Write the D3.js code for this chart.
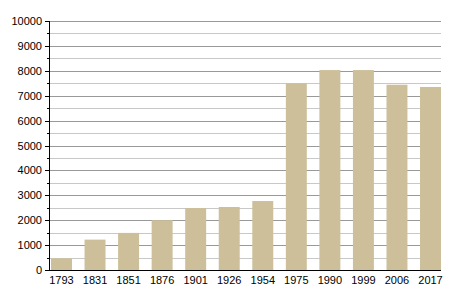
<!DOCTYPE html>
<html>
<head>
<meta charset="utf-8">
<script src="https://cdn.jsdelivr.net/npm/d3@7"></script>
<style>
  body { margin: 0; background: #fff; }
  text { font-family: "Liberation Sans", Arial, sans-serif; font-size: 11px; fill: #000; }
</style>
</head>
<body>
<div id="vis"></div>
<script>
// years and population
const years = ["1793", "1831", "1851", "1876", "1901", "1926", "1954", "1975", "1990", "1999", "2006", "2017"]
const population = [470, 1220, 1490, 2000, 2490, 2530, 2770, 7500, 8030, 8030, 7440, 7350]
const yTicks = [0, 1000, 2000, 3000, 4000, 5000, 6000, 7000, 8000, 9000, 10000]
const minorTicks = [500, 1500, 2500, 3500, 4500, 5500, 6500, 7500, 8500, 9500]

const width = 450, height = 300
const margin = { left: 49, right: 9, top: 21, bottom: 30 }

const svg = d3.select('#vis').append('svg')
  .attr('width', width)
  .attr('height', height)

const yScale = d3.scaleLinear()
  .domain([0, 10000])
  .range([height - margin.bottom, margin.top])

const xScale = d3.scaleBand()
  .domain(years)
  .range([margin.left + 2, width - margin.right])
  .paddingInner(0.375)
  .paddingOuter(0)

// minor grid
svg.append('g').selectAll('line')
  .data(minorTicks)
  .enter().append('line')
  .attr('x1', margin.left).attr('x2', width - margin.right)
  .attr('y1', d => Math.round(yScale(d)) + 0.5)
  .attr('y2', d => Math.round(yScale(d)) + 0.5)
  .attr('stroke', '#c8c8c8')

// major grid
svg.append('g').selectAll('line')
  .data(yTicks.slice(1))
  .enter().append('line')
  .attr('x1', margin.left).attr('x2', width - margin.right)
  .attr('y1', d => Math.round(yScale(d)) + 0.5)
  .attr('y2', d => Math.round(yScale(d)) + 0.5)
  .attr('stroke', '#999')

// bars
svg.append('g').selectAll('rect')
  .data(years)
  .enter().append('rect')
  .attr('x', (d, i) => xScale(d))
  .attr('width', xScale.bandwidth())
  .attr('y', (d, i) => yScale(population[i]))
  .attr('height', (d, i) => yScale(0) - yScale(population[i]))
  .attr('fill', '#cdbf99')

// y axis line and ticks
const yAxis = svg.append('g')
yAxis.append('line')
  .attr('x1', margin.left + 0.5).attr('x2', margin.left + 0.5)
  .attr('y1', margin.top).attr('y2', yScale(0))
  .attr('stroke', '#000')
yAxis.selectAll('.major')
  .data(yTicks)
  .enter().append('line')
  .attr('class', 'major')
  .attr('x1', margin.left - 4).attr('x2', margin.left)
  .attr('y1', d => Math.round(yScale(d)) + 0.5)
  .attr('y2', d => Math.round(yScale(d)) + 0.5)
  .attr('stroke', '#000')
yAxis.selectAll('.minor')
  .data(minorTicks)
  .enter().append('line')
  .attr('class', 'minor')
  .attr('x1', margin.left - 2).attr('x2', margin.left)
  .attr('y1', d => Math.round(yScale(d)) + 0.5)
  .attr('y2', d => Math.round(yScale(d)) + 0.5)
  .attr('stroke', '#000')
yAxis.selectAll('text')
  .data(yTicks)
  .enter().append('text')
  .attr('x', margin.left - 7)
  .attr('y', d => yScale(d) + 4)
  .attr('text-anchor', 'end')
  .text(d => d)

// x axis
svg.append('line')
  .attr('x1', margin.left).attr('x2', width - margin.right)
  .attr('y1', Math.round(yScale(0)) + 0.5).attr('y2', Math.round(yScale(0)) + 0.5)
  .attr('stroke', '#000')

svg.append('g').selectAll('text')
  .data(years)
  .enter().append('text')
  .attr('x', d => xScale(d) + xScale.bandwidth() / 2)
  .attr('y', yScale(0) + 14)
  .attr('text-anchor', 'middle')
  .text(d => d)
</script>
</body>
</html>
